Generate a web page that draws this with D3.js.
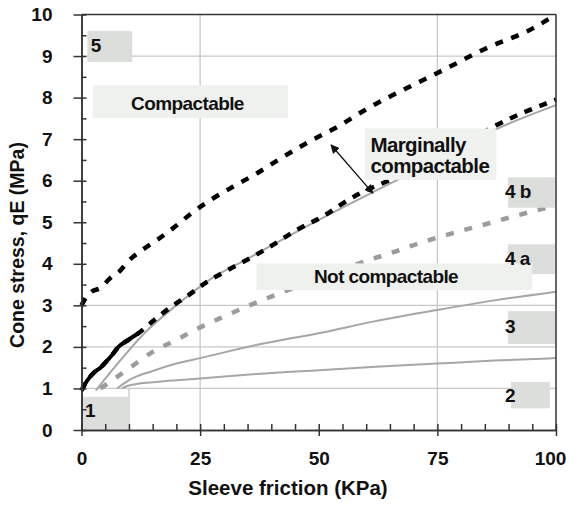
<!DOCTYPE html>
<html>
<head>
<meta charset="utf-8">
<script src="https://cdn.jsdelivr.net/npm/d3@7"></script>
<style>
  body { margin: 0; background: #fff; }
  text { font-family: "Liberation Sans", Arial, sans-serif; font-weight: bold; }
</style>
</head>
<body>
<div id="chart"></div>
<script>
// sleeve friction (KPa) / cone stress (MPa)
var upperX = [0, 1, 2, 4, 6, 8, 10, 13, 16, 20, 23, 27, 32, 37, 42, 48, 54, 60, 67, 76, 85, 95, 100];
var upperY = [3.0, 3.2, 3.32, 3.42, 3.65, 3.82, 4.08, 4.35, 4.58, 4.92, 5.2, 5.52, 5.86, 6.18, 6.54, 6.94, 7.3, 7.72, 8.14, 8.65, 9.17, 9.66, 10.0];

var lowerX = [0, 0.7, 1.4, 2.8, 4, 5, 6.4, 7.8, 9.9, 12, 13.7, 16.2, 19, 22.5, 26, 30.2, 34.8, 39.7, 45.3, 51.3, 55, 59.4, 64.3, 70, 76, 82, 87.5, 92.7, 98, 100];
var lowerY = [0.95, 1.1, 1.22, 1.4, 1.5, 1.62, 1.8, 2.0, 2.17, 2.33, 2.49, 2.73, 2.97, 3.24, 3.53, 3.81, 4.09, 4.41, 4.81, 5.17, 5.45, 5.74, 5.98, 6.3, 6.65, 6.98, 7.34, 7.62, 7.86, 7.95];

var zone4bX = [3, 8, 13, 20, 28, 35, 45, 55, 65, 75, 87, 100];
var zone4bY = [0.95, 1.65, 2.3, 3.0, 3.69, 4.12, 4.75, 5.35, 5.93, 6.5, 7.22, 7.82];

var zone4aX = [4, 10, 15, 20, 25, 30, 35, 40, 50, 60, 66, 71, 75, 80.5, 85.7, 90.7, 96, 100];
var zone4aY = [1.0, 1.48, 1.88, 2.17, 2.47, 2.73, 2.98, 3.21, 3.65, 4.07, 4.29, 4.49, 4.63, 4.81, 4.97, 5.13, 5.29, 5.4];

var zone3X = [7.5, 10, 15, 20, 25, 37, 50, 62, 75, 87, 100];
var zone3Y = [1.0, 1.2, 1.42, 1.6, 1.73, 2.05, 2.33, 2.62, 2.89, 3.12, 3.33];

var zone2X = [8.5, 10, 15, 20, 25, 37, 50, 62, 75, 87, 100];
var zone2Y = [1.0, 1.07, 1.15, 1.2, 1.24, 1.35, 1.44, 1.52, 1.6, 1.67, 1.73];

var xTicks = [0, 25, 50, 75, 100];
var yTicks = [0, 1, 2, 3, 4, 5, 6, 7, 8, 9, 10];
var hGrid = [1, 2, 3, 9];
var vGrid = [25, 75];

var width = 570, height = 506;

var svg = d3.select("#chart").append("svg")
  .attr("width", width)
  .attr("height", height);

var x = d3.scaleLinear().domain([0, 100]).range([81.5, 556]);
var y = d3.scaleLinear().domain([0, 10]).range([430, 14.5]);

function pts(xs, ys) {
  return xs.map(function (d, i) { return [d, ys[i]]; });
}

var line = d3.line()
  .x(function (d) { return x(d[0]); })
  .y(function (d) { return y(d[1]); })
  .curve(d3.curveMonotoneX);

// grid
svg.append("g").selectAll("line")
  .data(hGrid).join("line")
  .attr("x1", x(0)).attr("x2", x(100))
  .attr("y1", function (d) { return y(d); })
  .attr("y2", function (d) { return y(d); })
  .attr("stroke", "#c8c8c8").attr("stroke-width", 1.3);

svg.append("g").selectAll("line")
  .data(vGrid).join("line")
  .attr("x1", function (d) { return x(d); })
  .attr("x2", function (d) { return x(d); })
  .attr("y1", y(0)).attr("y2", y(10))
  .attr("stroke", "#c8c8c8").attr("stroke-width", 1.3);

// zone 1 edge
svg.append("line")
  .attr("x1", x(10)).attr("x2", x(10))
  .attr("y1", y(0)).attr("y2", y(1))
  .attr("stroke", "#c8c8c8").attr("stroke-width", 1.3);

// thin gray boundaries
[pts(zone2X, zone2Y), pts(zone3X, zone3Y), pts(zone4bX, zone4bY)].forEach(function (p) {
  svg.append("path")
    .attr("d", line(p))
    .attr("fill", "none")
    .attr("stroke", "#a6a6a6")
    .attr("stroke-width", 2);
});

// gray dashed
svg.append("path")
  .attr("d", line(pts(zone4aX, zone4aY)))
  .attr("fill", "none")
  .attr("stroke", "#9c9c9c")
  .attr("stroke-width", 4.5)
  .attr("stroke-dasharray", "8,11");

// black dashed
var lowerPts = pts(lowerX, lowerY);
svg.append("path")
  .attr("d", line(lowerPts))
  .attr("fill", "none")
  .attr("stroke", "#000")
  .attr("stroke-width", 4.5)
  .attr("stroke-dasharray", "8,8");
svg.append("path")
  .attr("d", line(lowerPts.filter(function (d) { return d[0] <= 12; })))
  .attr("fill", "none")
  .attr("stroke", "#000")
  .attr("stroke-width", 4);

svg.append("path")
  .attr("d", line(pts(upperX, upperY)))
  .attr("fill", "none")
  .attr("stroke", "#000")
  .attr("stroke-width", 4.5)
  .attr("stroke-dasharray", "8,9");

// zone labels
var boxes = [
  { x0: 1.22, x1: 10.7, y0: 8.86, y1: 9.6, fill: "#dcdedc" },
  { x0: 2.36, x1: 43.5, y0: 7.51, y1: 8.30, fill: "#eff1ef" },
  { x0: 59.7, x1: 87.4, y0: 6.02, y1: 7.26, fill: "#f0f2f0" },
  { x0: 89.9, x1: 99.8, y0: 5.35, y1: 6.08, fill: "#dcdedc" },
  { x0: 89.9, x1: 99.8, y0: 3.75, y1: 4.47, fill: "#dcdedc" },
  { x0: 36.9, x1: 95.0, y0: 3.37, y1: 4.01, fill: "#eff1ef" },
  { x0: 89.9, x1: 100, y0: 2.07, y1: 2.86, fill: "#dcdedc" },
  { x0: 90.5, x1: 98.7, y0: 0.52, y1: 1.16, fill: "#dcdedc" },
  { x0: 0, x1: 10.2, y0: 0, y1: 0.8, fill: "#dcdedc" }
];
svg.append("g").selectAll("rect")
  .data(boxes).join("rect")
  .attr("x", function (d) { return x(d.x0); })
  .attr("y", function (d) { return y(d.y1); })
  .attr("width", function (d) { return x(d.x1) - x(d.x0); })
  .attr("height", function (d) { return y(d.y0) - y(d.y1); })
  .attr("fill", function (d) { return d.fill; });

var labels = [
  { t: "5", x: 1.94, y: 9.09, size: 19 },
  { t: "Compactable", x: 10.45, y: 7.70, size: 19 },
  { t: "Marginally", x: 60.9, y: 6.70, size: 20.5 },
  { t: "compactable", x: 60.9, y: 6.19, size: 20.5 },
  { t: "4 b", x: 89.25, y: 5.59, size: 19 },
  { t: "4 a", x: 89.25, y: 3.97, size: 19 },
  { t: "Not compactable", x: 49.0, y: 3.53, size: 19 },
  { t: "3", x: 89.25, y: 2.33, size: 19 },
  { t: "2", x: 89.25, y: 0.68, size: 19 },
  { t: "1", x: 0.74, y: 0.31, size: 19 }
];
svg.append("g").selectAll("text")
  .data(labels).join("text")
  .attr("x", function (d) { return x(d.x); })
  .attr("y", function (d) { return y(d.y); })
  .style("font-size", function (d) { return d.size + "px"; })
  .style("letter-spacing", "-0.6px")
  .attr("fill", "#111")
  .text(function (d) { return d.t; });

// arrow
var defs = svg.append("defs");
["arrS", "arrE"].forEach(function (id, i) {
  defs.append("marker")
    .attr("id", id)
    .attr("viewBox", "0 0 10 10")
    .attr("refX", i === 0 ? 1 : 9).attr("refY", 5)
    .attr("markerWidth", 9).attr("markerHeight", 9)
    .attr("markerUnits", "userSpaceOnUse")
    .attr("orient", "auto")
    .append("path")
    .attr("d", i === 0 ? "M10,0L0,5L10,10Z" : "M0,0L10,5L0,10Z")
    .attr("fill", "#111");
});
svg.append("line")
  .attr("x1", x(52.6)).attr("y1", y(6.86))
  .attr("x2", x(61.4)).attr("y2", y(5.70))
  .attr("stroke", "#111").attr("stroke-width", 1.3)
  .attr("marker-start", "url(#arrS)")
  .attr("marker-end", "url(#arrE)");

// frame
var axisColor = "#333";
svg.append("line")
  .attr("x1", x(0)).attr("x2", x(100)).attr("y1", y(10)).attr("y2", y(10))
  .attr("stroke", axisColor).attr("stroke-width", 1.5);
svg.append("line")
  .attr("x1", x(100)).attr("x2", x(100)).attr("y1", y(10)).attr("y2", y(0))
  .attr("stroke", axisColor).attr("stroke-width", 1.5);

// y axis
svg.append("g")
  .attr("transform", "translate(" + x(0) + ",0)")
  .call(d3.axisLeft(y).tickValues(yTicks).tickSize(8).tickSizeOuter(0).tickPadding(21));
svg.append("g")
  .attr("transform", "translate(" + x(0) + ",0)")
  .call(d3.axisRight(y).tickValues(d3.range(0, 10.01, 0.5)).tickSize(5).tickSizeOuter(0).tickFormat(""));

// x axis
var xAxis = svg.append("g")
  .attr("transform", "translate(0," + y(0) + ")")
  .call(d3.axisBottom(x).tickValues(xTicks).tickSize(6).tickSizeOuter(0).tickPadding(16));
svg.append("g")
  .attr("transform", "translate(0," + y(0) + ")")
  .call(d3.axisTop(x).tickValues(d3.range(0, 100.1, 5)).tickSize(6).tickSizeOuter(0).tickFormat(""));

// last label sits a little left of its tick so it stays inside
xAxis.selectAll(".tick text")
  .filter(function (d) { return d === 100; })
  .attr("dx", "-6");

svg.selectAll(".domain, .tick line")
  .attr("stroke", axisColor).attr("stroke-width", 1.5);
svg.selectAll(".tick text")
  .style("font-size", "19px")
  .style("font-family", "'Liberation Sans', Arial, sans-serif")
  .style("font-weight", "bold")
  .attr("fill", "#111");

// axis titles
svg.append("text")
  .attr("x", 288).attr("y", 495)
  .attr("text-anchor", "middle")
  .style("font-size", "20.5px")
  .attr("fill", "#111")
  .text("Sleeve friction (KPa)");

svg.append("text")
  .attr("transform", "translate(24,245) rotate(-90)")
  .attr("text-anchor", "middle")
  .style("font-size", "19.5px")
  .attr("fill", "#111")
  .text("Cone stress, qE (MPa)");
</script>
</body>
</html>
